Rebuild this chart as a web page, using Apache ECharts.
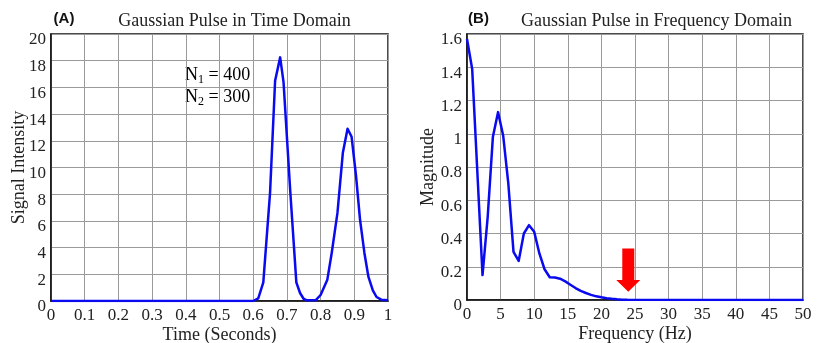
<!DOCTYPE html>
<html>
<head>
<meta charset="utf-8">
<script src="https://cdn.jsdelivr.net/npm/echarts@6/dist/echarts.min.js"></script>
<style>
  html, body { margin: 0; padding: 0; background: #fff; }
  #chart { width: 817px; height: 343px; }
</style>
</head>
<body>
<div id="chart"></div>
<script>
// Time-domain pulse pair (seconds, signal intensity)
const timeSec = [0, 0.5, 0.6, 0.615, 0.63, 0.65, 0.665, 0.68, 0.69, 0.71, 0.728, 0.739, 0.75, 0.76,
  0.785, 0.8, 0.82, 0.833, 0.85, 0.866, 0.88, 0.892, 0.905, 0.917, 0.93, 0.942, 0.955, 0.966, 0.98, 1];
const intensity = [0, 0, 0, 0.2, 1.4, 8.1, 16.5, 18.25, 16.4, 8.2, 1.4, 0.6, 0.15, 0.05,
  0.05, 0.45, 1.6, 3.6, 6.6, 11.1, 12.9, 12.3, 9.4, 6.1, 3.6, 1.8, 0.8, 0.3, 0.1, 0.05];

// Spectrum magnitude (Hz)
const freqHz = [0, 0.77, 1.54, 2.31, 3.08, 3.85, 4.62, 5.38, 6.15, 6.92, 7.69, 8.46, 9.23, 10.0,
  10.77, 11.54, 12.31, 13.08, 13.85, 14.62, 15.38, 16.15, 16.92, 17.69, 18.46, 19.23, 20.0,
  20.77, 21.54, 22.31, 23.08, 23.85, 50];
const magnitude = [1.57, 1.39, 0.77, 0.15, 0.50, 0.98, 1.13, 0.99, 0.70, 0.29, 0.235, 0.40, 0.45, 0.41,
  0.28, 0.185, 0.137, 0.135, 0.128, 0.112, 0.092, 0.072, 0.055, 0.042, 0.031, 0.022, 0.016,
  0.011, 0.007, 0.004, 0.002, 0.001, 0];

// Arrow marking the cutoff: [frequency, top magnitude, head start, tip magnitude]
const cutoffArrow = [24, 0.31, 0.12, 0.05];

const panelTitles = ['Gaussian Pulse in Time Domain', 'Gaussian Pulse in Frequency Domain'];
const panelTags = ['(A)', '(B)'];
const pulseCounts = ['400', '300'];

const serif = '"Liberation Serif", "Times New Roman", serif';
const lineBlue = '#0a0af0';

const chart = echarts.init(document.getElementById('chart'), null, { renderer: 'canvas' });

function valuePairs(xs, ys) { return xs.map((x, i) => [x, ys[i]]); }

const gridStyle = { show: true, borderColor: '#111', borderWidth: 1.5, backgroundColor: 'transparent', outerBoundsMode: 'none', containLabel: false };
const tickLabel = { fontFamily: serif, fontSize: 17, color: '#222' };

function xAxisFor(gridIndex, min, max, interval, name) {
  return {
    gridIndex, type: 'value', min, max, interval,
    name, nameLocation: 'middle', nameGap: 25, nameMoveOverlap: false,
    nameTextStyle: { fontFamily: serif, fontSize: 18, color: '#222' },
    axisLine: { show: true, lineStyle: { color: '#111', width: 1.5 } },
    axisTick: { show: false },
    axisLabel: Object.assign({ margin: 6 }, tickLabel),
    splitLine: { show: true, lineStyle: { color: '#9a9a9a', width: 1 } }
  };
}
function yAxisFor(gridIndex, min, max, interval, name, nameGap) {
  return {
    gridIndex, type: 'value', min, max, interval,
    name, nameLocation: 'middle', nameGap, nameMoveOverlap: false,
    nameTextStyle: { fontFamily: serif, fontSize: 18, color: '#222' },
    axisLine: { show: true, lineStyle: { color: '#111', width: 1.5 } },
    axisTick: { show: false },
    axisLabel: Object.assign({ margin: 5, verticalAlign: 'top', lineHeight: 12 }, tickLabel),
    splitLine: { show: true, lineStyle: { color: '#9a9a9a', width: 1 } }
  };
}

const option = {
  animation: false,
  backgroundColor: '#fff',
  grid: [
    Object.assign({ left: 51, right: 429, top: 34, bottom: 42 }, gridStyle),
    Object.assign({ left: 467, right: 14, top: 34, bottom: 43 }, gridStyle)
  ],
  xAxis: [
    xAxisFor(0, 0, 1, 0.1, 'Time (Seconds)'),
    xAxisFor(1, 0, 50, 5, 'Frequency (Hz)')
  ],
  yAxis: [
    yAxisFor(0, 0, 20, 2, 'Signal Intensity', 23),
    yAxisFor(1, 0, 1.6, 0.2, 'Magnitude', 30)
  ],
  graphic: [
    { type: 'text', x: 234.5, y: 21, style: { text: panelTitles[0], font: '18px ' + serif, fill: '#222', align: 'center', verticalAlign: 'middle' } },
    { type: 'text', x: 656.5, y: 21, style: { text: panelTitles[1], font: '18px ' + serif, fill: '#222', align: 'center', verticalAlign: 'middle' } },
    { type: 'text', x: 64, y: 19, style: { text: panelTags[0], font: 'bold 15px "Liberation Sans", Arial, sans-serif', fill: '#111', align: 'center', verticalAlign: 'middle' } },
    { type: 'text', x: 478.5, y: 19, style: { text: panelTags[1], font: 'bold 15px "Liberation Sans", Arial, sans-serif', fill: '#111', align: 'center', verticalAlign: 'middle' } },
    {
      type: 'text', x: 185, y: 75,
      style: {
        text: '{n|N}{s|1}{n| = ' + pulseCounts[0] + '}',
        verticalAlign: 'middle',
        rich: { n: { fontFamily: serif, fontSize: 18, color: '#222' }, s: { fontFamily: serif, fontSize: 12, color: '#222', padding: [9, 0, 0, 0] } }
      }
    },
    {
      type: 'text', x: 185, y: 97,
      style: {
        text: '{n|N}{s|2}{n| = ' + pulseCounts[1] + '}',
        verticalAlign: 'middle',
        rich: { n: { fontFamily: serif, fontSize: 18, color: '#222' }, s: { fontFamily: serif, fontSize: 12, color: '#222', padding: [9, 0, 0, 0] } }
      }
    }
  ],
  series: [
    {
      type: 'line', xAxisIndex: 0, yAxisIndex: 0,
      data: valuePairs(timeSec, intensity),
      showSymbol: false, symbol: 'none',
      lineStyle: { color: lineBlue, width: 2.5, join: 'round' }
    },
    {
      type: 'line', xAxisIndex: 1, yAxisIndex: 1,
      data: valuePairs(freqHz, magnitude),
      showSymbol: false, symbol: 'none',
      lineStyle: { color: lineBlue, width: 2.5, join: 'round' }
    },
    {
      type: 'custom', xAxisIndex: 1, yAxisIndex: 1, z: 5,
      data: [cutoffArrow],
      renderItem: function (params, api) {
        const x = api.value(0);
        const top = api.coord([x, api.value(1)]);
        const head = api.coord([x, api.value(2)]);
        const tip = api.coord([x, api.value(3)]);
        const sw = 6, hw = 12;
        return {
          type: 'polygon',
          shape: {
            points: [
              [top[0] - sw, top[1]], [top[0] + sw, top[1]],
              [head[0] + sw, head[1]], [head[0] + hw, head[1]],
              [tip[0], tip[1]],
              [head[0] - hw, head[1]], [head[0] - sw, head[1]]
            ]
          },
          style: { fill: '#ff0000', stroke: null }
        };
      }
    }
  ]
};

chart.setOption(option);
</script>
</body>
</html>
